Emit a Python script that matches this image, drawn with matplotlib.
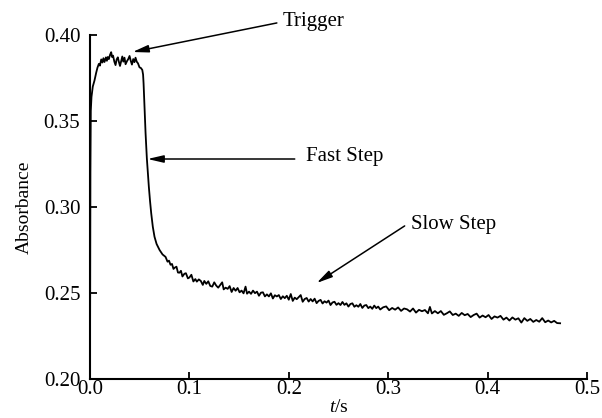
import matplotlib
matplotlib.use('Agg')
import matplotlib.pyplot as plt

# time (s) and absorbance
t_vals = [0.0000, 0.0004, 0.0008, 0.0015, 0.0028, 0.0045, 0.0062, 0.0075, 0.0089, 0.0100,
          0.0113, 0.0125, 0.0135, 0.0146, 0.0160, 0.0170, 0.0179, 0.0190, 0.0202, 0.0213,
          0.0222, 0.0232, 0.0245, 0.0257, 0.0268, 0.0280, 0.0290, 0.0302, 0.0314, 0.0325,
          0.0335, 0.0347, 0.0358, 0.0372, 0.0385, 0.0398, 0.0410, 0.0422, 0.0435, 0.0447,
          0.0458, 0.0470, 0.0483, 0.0498, 0.0512, 0.0526, 0.0534, 0.0539, 0.0546, 0.0559,
          0.0572, 0.0582, 0.0592, 0.0604, 0.0616, 0.0632, 0.0649, 0.0670,
          0.0700, 0.0730, 0.0760, 0.0780, 0.0795, 0.0810, 0.0825, 0.0840, 0.0855, 0.0870,
          0.0885, 0.0900, 0.0915, 0.0930, 0.0950, 0.0965, 0.0985, 0.1000, 0.1020, 0.1040,
          0.1060, 0.1075, 0.1095, 0.1115, 0.1135, 0.1150, 0.1170, 0.1190, 0.1210, 0.1230,
          0.1250, 0.1270, 0.1290, 0.1310, 0.1330, 0.1345, 0.1365, 0.1385, 0.1405, 0.1425,
          0.1445, 0.1465, 0.1485, 0.1505, 0.1525, 0.1545, 0.1565, 0.1580, 0.1600, 0.1620,
          0.1640, 0.1660, 0.1680, 0.1700, 0.1720, 0.1740, 0.1760, 0.1780, 0.1800, 0.1820,
          0.1840, 0.1860, 0.1880, 0.1900, 0.1920, 0.1940, 0.1960, 0.1980, 0.2000, 0.2020,
          0.2040, 0.2060, 0.2080, 0.2100, 0.2120, 0.2140, 0.2160, 0.2180, 0.2200, 0.2220,
          0.2240, 0.2260, 0.2280, 0.2300, 0.2320, 0.2340, 0.2360, 0.2380, 0.2400, 0.2420,
          0.2440, 0.2460, 0.2480, 0.2500, 0.2520, 0.2540, 0.2560, 0.2580, 0.2600, 0.2620,
          0.2640, 0.2660, 0.2680, 0.2700, 0.2720, 0.2740, 0.2760, 0.2780, 0.2800, 0.2820,
          0.2840, 0.2860, 0.2880, 0.2900, 0.2920, 0.2950, 0.2980, 0.3010, 0.3040, 0.3070,
          0.3100, 0.3130, 0.3160, 0.3190, 0.3220, 0.3250, 0.3280, 0.3310, 0.3340, 0.3370,
          0.3400, 0.3420, 0.3440, 0.3470, 0.3500, 0.3530, 0.3560, 0.3590, 0.3620, 0.3650,
          0.3680, 0.3710, 0.3740, 0.3770, 0.3800, 0.3830, 0.3860, 0.3890, 0.3920, 0.3950,
          0.3980, 0.4010, 0.4040, 0.4070, 0.4100, 0.4130, 0.4160, 0.4190, 0.4220, 0.4250,
          0.4280, 0.4310, 0.4340, 0.4370, 0.4400, 0.4430, 0.4460, 0.4490, 0.4520, 0.4550,
          0.4580, 0.4610, 0.4640, 0.4670, 0.4700, 0.4730]
absorbance = [0.2050, 0.3200, 0.3560, 0.3640, 0.3700, 0.3735, 0.3780, 0.3810, 0.3832, 0.3822,
              0.3858, 0.3840, 0.3865, 0.3843, 0.3870, 0.3850, 0.3872, 0.3860, 0.3885, 0.3900,
              0.3872, 0.3880, 0.3845, 0.3825, 0.3858, 0.3870, 0.3845, 0.3820, 0.3850, 0.3875,
              0.3845, 0.3868, 0.3830, 0.3848, 0.3860, 0.3878, 0.3850, 0.3828, 0.3860, 0.3842,
              0.3868, 0.3845, 0.3835, 0.3812, 0.3808, 0.3797, 0.3770, 0.3719, 0.3622, 0.3430,
              0.3283, 0.3200, 0.3118, 0.3035, 0.2963, 0.2885, 0.2827, 0.2785,
              0.2750, 0.2724, 0.2710, 0.2682, 0.2688, 0.2664, 0.2669, 0.2640, 0.2648, 0.2653,
              0.2619, 0.2618, 0.2629, 0.2596, 0.2612, 0.2615, 0.2585, 0.2590, 0.2606, 0.2567,
              0.2581, 0.2566, 0.2579, 0.2570, 0.2547, 0.2570, 0.2553, 0.2568, 0.2541, 0.2537,
              0.2562, 0.2543, 0.2531, 0.2546, 0.2562, 0.2521, 0.2531, 0.2524, 0.2540, 0.2506,
              0.2529, 0.2513, 0.2529, 0.2504, 0.2514, 0.2498, 0.2537, 0.2496, 0.2508, 0.2495,
              0.2514, 0.2499, 0.2508, 0.2484, 0.2502, 0.2504, 0.2480, 0.2492, 0.2480, 0.2498,
              0.2468, 0.2487, 0.2480, 0.2488, 0.2465, 0.2481, 0.2470, 0.2484, 0.2461, 0.2494,
              0.2454, 0.2473, 0.2464, 0.2476, 0.2488, 0.2449, 0.2465, 0.2471, 0.2450, 0.2465,
              0.2451, 0.2467, 0.2441, 0.2454, 0.2460, 0.2439, 0.2452, 0.2444, 0.2456, 0.2430,
              0.2445, 0.2449, 0.2431, 0.2441, 0.2430, 0.2448, 0.2431, 0.2440, 0.2421, 0.2436,
              0.2440, 0.2420, 0.2429, 0.2420, 0.2436, 0.2413, 0.2427, 0.2430, 0.2412, 0.2421,
              0.2408, 0.2427, 0.2412, 0.2421, 0.2404, 0.2417, 0.2422, 0.2400, 0.2413, 0.2403,
              0.2416, 0.2396, 0.2410, 0.2405, 0.2392, 0.2410, 0.2386, 0.2402, 0.2394, 0.2401,
              0.2382, 0.2419, 0.2381, 0.2395, 0.2382, 0.2395, 0.2373, 0.2382, 0.2393, 0.2372,
              0.2380, 0.2367, 0.2384, 0.2371, 0.2378, 0.2360, 0.2372, 0.2380, 0.2357, 0.2369,
              0.2359, 0.2372, 0.2349, 0.2364, 0.2357, 0.2367, 0.2345, 0.2357, 0.2340, 0.2358,
              0.2345, 0.2353, 0.2328, 0.2354, 0.2338, 0.2349, 0.2332, 0.2343, 0.2333, 0.2354,
              0.2330, 0.2340, 0.2329, 0.2338, 0.2325, 0.2324]

x_ticks = [0.0, 0.1, 0.2, 0.3, 0.4, 0.5]
y_ticks = [0.20, 0.25, 0.30, 0.35, 0.40]

# (label, arrow tip, arrow tail, text position) in data units
notes = [
    ('Trigger', (0.0428, 0.3901), (0.1880, 0.4070), (0.1938, 0.4076)),
    ('Fast Step', (0.0579, 0.3279), (0.2060, 0.3279), (0.2170, 0.3291)),
    ('Slow Step', (0.2280, 0.2558), (0.3166, 0.2890), (0.3227, 0.2901)),
]

plt.rcParams['font.family'] = ['Liberation Serif', 'DejaVu Serif']
plt.rcParams['mathtext.fontset'] = 'custom'
plt.rcParams['mathtext.rm'] = 'Liberation Serif'
plt.rcParams['mathtext.it'] = 'Liberation Serif:italic'

fig = plt.figure(figsize=(6.02, 4.18), dpi=100)
ax = fig.add_axes([0.1495, 0.0933, 0.8255, 0.823])

ax.plot(t_vals, absorbance, color='black', linewidth=1.3)

# 只保留左边和底边的坐标轴
ax.spines['top'].set_visible(False)
ax.spines['right'].set_visible(False)
ax.spines['left'].set_linewidth(1.5)
ax.spines['bottom'].set_linewidth(1.5)

ax.set_xlim(0, 0.5)
ax.set_ylim(0.2, 0.4)
ax.set_xticks(x_ticks)
ax.set_xticklabels(['%.1f' % v for v in x_ticks])
ax.set_yticks(y_ticks)
ax.set_yticklabels(['%.2f' % v for v in y_ticks])
ax.tick_params(axis='both', direction='in', length=5, width=1.3, labelsize=15)
ax.tick_params(axis='x', pad=1)
ax.tick_params(axis='y', pad=7)

ax.set_xlabel(r'$t$/s', fontsize=14, labelpad=0)
ax.set_ylabel('Absorbance', fontsize=14, labelpad=8)

# 箭头和文字
for label, tip, tail, pos in notes:
    ax.annotate('', xy=tip, xytext=tail, annotation_clip=False,
                arrowprops=dict(arrowstyle='-|>,head_length=0.95,head_width=0.22',
                                color='black', lw=1.1, shrinkA=0, shrinkB=0,
                                mutation_scale=10))
    ax.text(pos[0], pos[1], label, fontsize=15, ha='left', va='center', clip_on=False)

plt.savefig('out.png', dpi=100)
